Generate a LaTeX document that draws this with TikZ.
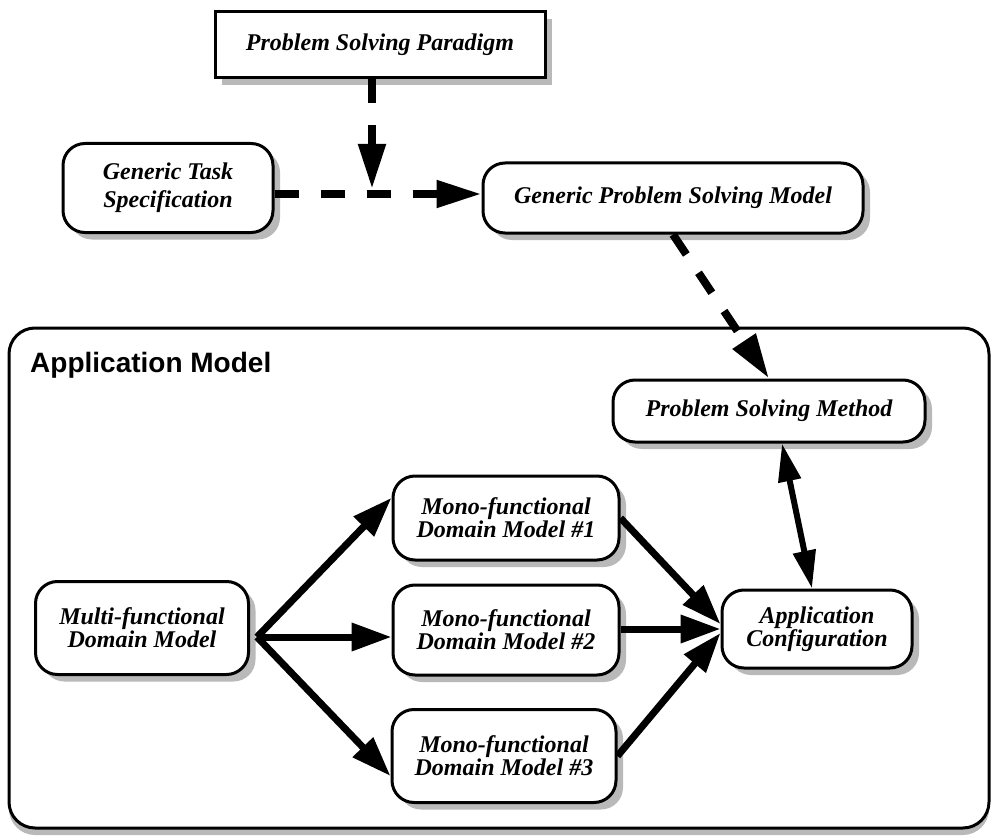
\documentclass[tikz,border=0pt]{standalone}
\usepackage{fontspec}
\setmainfont{Liberation Serif}
\newfontfamily\labelsans{Liberation Sans}
\usetikzlibrary{arrows.meta,shadows}

\tikzset{
  shade box/.style={general shadow={shadow xshift=7pt, shadow yshift=-7pt, fill=gray!55}},
  modelbox/.style={draw, line width=3pt, rounded corners=22pt, fill=white,
    align=center, inner sep=0pt, shade box,
    font=\fontsize{24}{23}\selectfont\bfseries\itshape},
  sharpbox/.style={modelbox, rounded corners=0pt},
  frame/.style={draw, line width=3pt, rounded corners=26pt, fill=white,
    general shadow={shadow xshift=0pt, shadow yshift=-7pt, fill=gray!55}},
  dasharrow/.style={line width=8pt, dash pattern=on 24pt off 22pt,
    -{Triangle[length=45pt,width=26pt]}},
  flowarrow/.style={line width=7pt, -{Triangle[length=40pt,width=27pt]}},
  linkarrow/.style={line width=6pt,
    {Triangle[length=38pt,width=22pt]}-{Triangle[length=38pt,width=22pt]}},
}

\begin{document}
\begin{tikzpicture}[x=1pt,y=-1pt]
  \useasboundingbox (0,0) rectangle (994,840);

  % enclosing application model frame
  \node[frame, minimum width=980pt, minimum height=500pt] (app) at (499,578) {};
  \node[font=\labelsans\fontsize{28}{30}\selectfont\bfseries, anchor=base west,
        inner sep=0pt] (applabel) at (30,372) {Application Model};

  % upper models
  \node[sharpbox, minimum width=330pt, minimum height=66pt] (psp) at (380,45)
    {Problem Solving Paradigm};
  \node[modelbox, minimum width=210pt, minimum height=89pt,
        font=\fontsize{24}{28}\selectfont\bfseries\itshape] (gts) at (168,188)
    {Generic Task\\Specification};
  \node[modelbox, minimum width=380pt, minimum height=70pt] (gpsm) at (673,198)
    {Generic Problem Solving Model};

  % models inside the application model
  \node[modelbox, minimum width=312pt, minimum height=62pt] (psm) at (769,411)
    {Problem Solving Method};
  \node[modelbox, minimum width=213pt, minimum height=93pt] (multi) at (142,628)
    {Multi-functional\\Domain Model};
  \node[modelbox, minimum width=226pt, minimum height=84pt] (mono1) at (506,518)
    {Mono-functional\\Domain Model \#1};
  \node[modelbox, minimum width=226pt, minimum height=90pt] (mono2) at (506,630)
    {Mono-functional\\Domain Model \#2};
  \node[modelbox, minimum width=224pt, minimum height=93pt] (mono3) at (504,756)
    {Mono-functional\\Domain Model \#3};
  \node[modelbox, minimum width=190pt, minimum height=78pt] (ac) at (817,629)
    {Application\\Configuration};

  % dashed derivation arrows
  \coordinate (join) at (372,194);
  \coordinate (jointip) at (372,189);
  \draw[dasharrow] (gts.east |- join) -- (gpsm.west |- join);
  \draw[dasharrow] (psp.south -| join) -- (jointip);
  \draw[dasharrow] (gpsm.south) -- (psm.north);

  % domain model refinement
  \coordinate (fork) at (257,637);
  \draw[flowarrow] (fork) -- (mono1.170);
  \draw[flowarrow] (fork) -- (mono2.west |- fork);
  \draw[flowarrow] (fork) -- (mono3.190);

  % configuration inputs
  \draw[flowarrow] (mono1.east) -- ([yshift=5pt]ac.west);
  \draw[flowarrow] (mono2.east |- ac.west) -- (ac.west);
  \draw[flowarrow] (mono3.east) -- ([yshift=-4pt]ac.west);
  \draw[linkarrow] ([xshift=13pt]psm.south) -- ([xshift=-5pt]ac.north);
\end{tikzpicture}
\end{document}
